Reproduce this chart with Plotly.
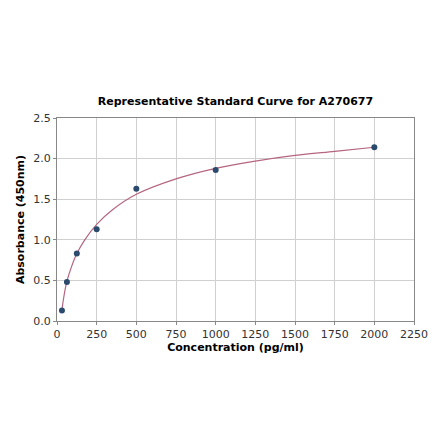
import plotly.graph_objects as go

# Standard points
conc = [31.25, 62.5, 125, 250, 500, 1000, 2000]
absorb = [0.13, 0.48, 0.83, 1.13, 1.63, 1.86, 2.14]

# Fitted curve
fit_x = [31.25, 45, 62.5, 90, 125, 175, 250, 350, 500, 750, 1000, 1250, 1500, 1750, 2000]
fit_y = [0.14, 0.32, 0.49, 0.66, 0.83, 1.00, 1.19, 1.37, 1.56, 1.75, 1.88, 1.97, 2.04, 2.09, 2.14]

x_ticks = [0, 250, 500, 750, 1000, 1250, 1500, 1750, 2000, 2250]
y_ticks = [0.0, 0.5, 1.0, 1.5, 2.0, 2.5]

fig = go.Figure()
fig.add_trace(go.Scatter(
    x=fit_x, y=fit_y, mode='lines',
    line=dict(color='#b5657f', width=1.2, shape='spline'),
    hoverinfo='skip'
))
fig.add_trace(go.Scatter(
    x=conc, y=absorb, mode='markers',
    marker=dict(color='#2b4b6e', size=6)
))

axis_style = dict(
    showgrid=True, gridcolor='#d0d0d0', gridwidth=1,
    showline=True, linecolor='#888888', linewidth=1, mirror=True,
    ticks='outside', ticklen=3, tickcolor='#888888',
    tickfont=dict(family='DejaVu Sans', size=11, color='#333333'),
    zeroline=False,
)

# page body adds 8px offset, so size and margins are trimmed to match
fig.update_layout(
    width=432, height=433,
    margin=dict(l=46, r=22, t=110, b=120),
    paper_bgcolor='white', plot_bgcolor='white',
    showlegend=False,
    title=dict(
        text='<b>Representative Standard Curve for A270677</b>',
        x=0.5, xref='paper', y=1, yref='paper', yanchor='bottom', pad=dict(b=13),
        font=dict(family='DejaVu Sans', size=11, color='black')
    ),
    xaxis=dict(
        axis_style, range=[0, 2250], tickvals=x_ticks,
        title=dict(text='<b>Concentration (pg/ml)</b>', standoff=3,
                   font=dict(family='DejaVu Sans', size=11, color='black'))
    ),
    yaxis=dict(
        axis_style, range=[0, 2.5], tickvals=y_ticks, tickformat='.1f',
        title=dict(text='<b>Absorbance (450nm)</b>', standoff=6,
                   font=dict(family='DejaVu Sans', size=11, color='black'))
    ),
)

fig.write_html('out.html')
